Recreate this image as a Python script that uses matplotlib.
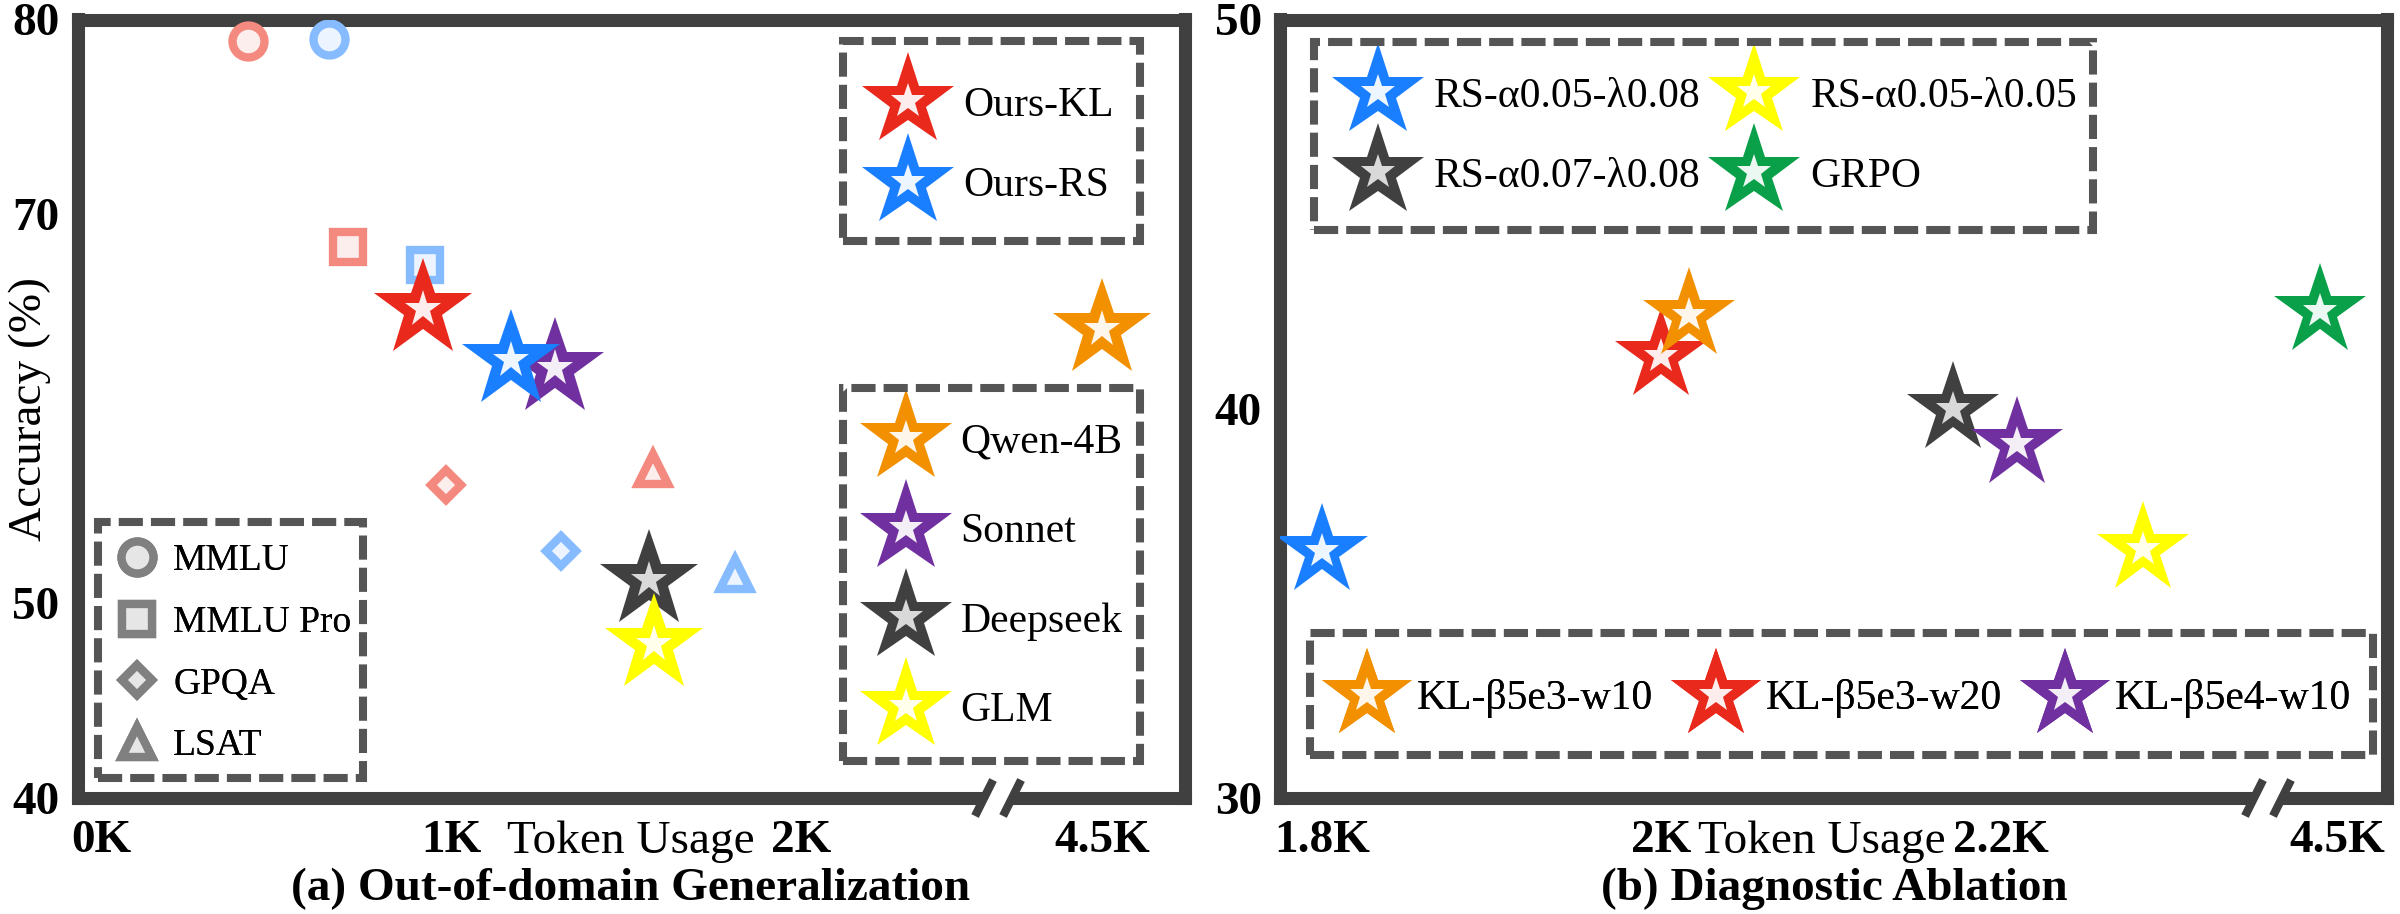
import numpy as np
import matplotlib
matplotlib.use('Agg')
import matplotlib.pyplot as plt
from matplotlib.lines import Line2D
from matplotlib.patches import Rectangle
from matplotlib.legend_handler import HandlerTuple

plt.rcParams['font.family'] = ['Liberation Serif', 'DejaVu Serif']

# ---------------- data: panel (a) ----------------
bench_names = ['MMLU', 'MMLU Pro', 'GPQA', 'LSAT']
kl_bench_tokens = [0.42, 0.706, 0.986, 1.577]      # K tokens
kl_bench_acc = [78.9, 68.3, 56.1, 56.9]
rs_bench_tokens = [0.652, 0.925, 1.314, 1.81]
rs_bench_acc = [79.0, 67.4, 52.7, 51.5]

models_a = ['Ours-KL', 'Ours-RS', 'Qwen-4B', 'Sonnet', 'Deepseek', 'GLM']
tokens_a = [0.921, 1.172, 4.5, 1.297, 1.566, 1.581]
acc_a = [65.1, 62.5, 64.1, 62.1, 51.2, 47.9]

xticks_a = [0, 1, 2, 4.5]
xticklabels_a = ['0K', '1K', '2K', '4.5K']
yticks_a = [40, 50, 70, 80]

# ---------------- data: panel (b) ----------------
models_b = ['RS-α0.05-λ0.08', 'RS-α0.07-λ0.08', 'RS-α0.05-λ0.05', 'GRPO',
            'KL-β5e3-w10', 'KL-β5e3-w20', 'KL-β5e4-w10']
tokens_b = [1.80, 2.172, 2.2835, 4.49, 2.016, 2.0, 2.2096]
acc_b = [36.35, 40.0, 36.4, 42.5, 42.4, 41.35, 39.1]

xticks_b = [1.8, 2.0, 2.2, 4.5]
xticklabels_b = ['1.8K', '2K', '2.2K', '4.5K']
yticks_b = [30, 40, 50]

# ---------------- styles ----------------
C = {
    'Ours-KL': '#E8291C', 'Ours-RS': '#1A7FFF', 'Qwen-4B': '#F29000',
    'Sonnet': '#7030A0', 'Deepseek': '#404040', 'GLM': '#FFFF00',
    'RS-α0.05-λ0.08': '#1A7FFF', 'RS-α0.07-λ0.08': '#404040',
    'RS-α0.05-λ0.05': '#FFFF00', 'GRPO': '#0AA04A',
    'KL-β5e3-w10': '#F29000', 'KL-β5e3-w20': '#E8291C', 'KL-β5e4-w10': '#7030A0',
}
bench_marker = {'MMLU': 'o', 'MMLU Pro': 's', 'GPQA': 'D', 'LSAT': '^'}
bench_ms = {'MMLU': 11.5, 'MMLU Pro': 10.5, 'GPQA': 7.6, 'LSAT': 10.5}
kl_edge, kl_face = '#F4897F', '#FCEEED'
rs_edge, rs_face = '#86BBFF', '#EBF4FF'
gray_edge, gray_face = '#808080', '#E6E6E6'
SPINE = '#404040'
BOX = '#555555'


def tint(hexc, amt):
    c = np.array(matplotlib.colors.to_rgb(hexc))
    return tuple(c * amt + (1 - amt) * 1.0)


def star_inner(name):
    if name in ('Deepseek', 'RS-α0.07-λ0.08'):
        return '#D9D9D9'
    return tint(C[name], 0.08)


def broken_scale(lo, hi):
    gap = hi - lo

    def fwd(x):
        x = np.asarray(x, dtype=float)
        return np.where(x <= lo, x, np.where(x >= hi, x - gap, lo))

    def inv(y):
        y = np.asarray(y, dtype=float)
        return np.where(y <= lo, y, y + gap)
    return fwd, inv


W, H = 2400, 914
fig = plt.figure(figsize=(12, 4.57), dpi=200)


def fx(px):
    return px / W


def fy(py):
    return 1 - py / H


axA = fig.add_axes([fx(77.5), fy(798), (1185 - 77.5) / W, (798 - 19.5) / H])
axB = fig.add_axes([fx(1280), fy(798), (2387 - 1280) / W, (798 - 19.5) / H])

brkA = (2.563, 4.203)
brkB = (2.3573, 4.4594)
axA.set_xscale('function', functions=broken_scale(*brkA))
axB.set_xscale('function', functions=broken_scale(*brkB))
axA.set_xlim(-0.0671, 4.7371)
axA.set_ylim(40, 80)
axB.set_xlim(1.7753, 4.5295)
axB.set_ylim(30, 50)


def star(ax, x, y, name, ms_out, ms_in, z):
    ax.plot([x], [y], linestyle='none', marker='*', ms=ms_out, mew=0,
            color=C[name], zorder=z)
    ax.plot([x], [y], linestyle='none', marker='*', ms=ms_in, mew=0,
            color=star_inner(name), zorder=z + 0.01)


def star_handle(name, ms_out, ms_in):
    h1 = Line2D([], [], linestyle='none', marker='*', ms=ms_out, mew=0, color=C[name])
    h2 = Line2D([], [], linestyle='none', marker='*', ms=ms_in, mew=0, color=star_inner(name))
    return (h1, h2)


# ---- panel (a) benchmark markers ----
for i, b in enumerate(bench_names):
    axA.plot([kl_bench_tokens[i]], [kl_bench_acc[i]], linestyle='none',
             marker=bench_marker[b], ms=bench_ms[b], mew=3, mec=kl_edge, mfc=kl_face, zorder=3)
    axA.plot([rs_bench_tokens[i]], [rs_bench_acc[i]], linestyle='none',
             marker=bench_marker[b], ms=bench_ms[b], mew=3, mec=rs_edge, mfc=rs_face, zorder=3)

# ---- panel (a) stars ----
orderA = ['Qwen-4B', 'Sonnet', 'Ours-KL', 'Ours-RS', 'Deepseek', 'GLM']
for k, name in enumerate(orderA):
    i = models_a.index(name)
    star(axA, tokens_a[i], acc_a[i], name, 37, 14, 4 + k * 0.1)

# ---- panel (b) stars ----
orderB = ['RS-α0.05-λ0.08', 'KL-β5e3-w20', 'KL-β5e3-w10', 'RS-α0.07-λ0.08',
          'KL-β5e4-w10', 'RS-α0.05-λ0.05', 'GRPO']
for k, name in enumerate(orderB):
    i = models_b.index(name)
    star(axB, tokens_b[i], acc_b[i], name, 34.5, 13, 4 + k * 0.1)

# ---- axes styling ----
for ax in (axA, axB):
    for s in ax.spines.values():
        s.set_linewidth(4.7)
        s.set_color(SPINE)
    ax.tick_params(axis='both', length=0, labelsize=17)
    ax.tick_params(axis='x', pad=8)
    ax.tick_params(axis='y', pad=6.5)

axA.set_xticks(xticks_a)
axA.set_xticklabels(xticklabels_a, fontweight='bold')
axA.set_yticks(yticks_a)
axA.set_yticklabels([str(v) for v in yticks_a], fontweight='bold')
axB.set_xticks(xticks_b)
axB.set_xticklabels(xticklabels_b, fontweight='bold')
axB.set_yticks(yticks_b)
axB.set_yticklabels([str(v) for v in yticks_b], fontweight='bold')
axA.minorticks_off()
axB.minorticks_off()

axA.set_xlabel('Token Usage', fontsize=17, labelpad=-15)
axB.set_xlabel('Token Usage', fontsize=17, labelpad=-15)
axB.xaxis.label.set_x((1822 - 1280) / 1107)
axA.set_ylabel('Accuracy (%)', fontsize=17, labelpad=-14)

fig.text(fx(631), fy(900), '(a) Out-of-domain Generalization', ha='center',
         va='baseline', fontsize=17, fontweight='bold')
fig.text(fx(1834), fy(900), '(b) Diagnostic Ablation', ha='center',
         va='baseline', fontsize=17, fontweight='bold')


# ---- dashed legend boxes ----
def dashed_box(x0, y0, x1, y1):
    r = Rectangle((fx(x0), fy(y1)), (x1 - x0) / W, (y1 - y0) / H,
                  transform=fig.transFigure, fill=False, edgecolor=BOX,
                  linewidth=2.9, linestyle=(0, (3.0, 1.0)), zorder=5)
    fig.add_artist(r)


dashed_box(843, 41, 1139.5, 241)
dashed_box(843, 388, 1139.5, 761)
dashed_box(98, 522, 363, 778)
dashed_box(1314, 41.7, 2093, 230)
dashed_box(1310, 633, 2373, 755)


def legend(ax, handles, labels, cx, cy, size, ls, htp, hl=1.4, ncol=1, cs=0.6):
    lg = ax.legend(handles, labels, loc='center', bbox_to_anchor=(fx(cx), fy(cy)),
                   bbox_transform=fig.transFigure, frameon=False, borderpad=0,
                   borderaxespad=0, prop={'size': size}, labelspacing=ls,
                   handletextpad=htp, handlelength=hl, ncol=ncol, columnspacing=cs,
                   handler_map={tuple: HandlerTuple(ndivide=1)})
    lg.set_zorder(6)
    ax.add_artist(lg)
    return lg


legend(axA, [star_handle(n, 35, 13) for n in ['Ours-KL', 'Ours-RS']],
       ['Ours-KL', 'Ours-RS'], 996.5, 145.75, 15, 1.0, 0.62)
legend(axA, [star_handle(n, 35, 13) for n in ['Qwen-4B', 'Sonnet', 'Deepseek', 'GLM']],
       ['Qwen-4B', 'Sonnet', 'Deepseek', 'GLM'], 999.5, 576.6, 15, 1.22, 0.62)
gh = [Line2D([], [], linestyle='none', marker=bench_marker[b], ms=bench_ms[b], mew=3,
             mec=gray_edge, mfc=gray_face) for b in bench_names]
legend(axA, gh, bench_names, 232.7, 653.5, 13.5, 0.72, 0.38, hl=1.2)

orderD = ['RS-α0.05-λ0.08', 'RS-α0.07-λ0.08', 'RS-α0.05-λ0.05', 'GRPO']
legend(axB, [star_handle(n, 35, 13) for n in orderD], orderD, 1712.75, 136.5, 15, 0.99,
       0.65, ncol=2, cs=0.58)
orderE = ['KL-β5e3-w10', 'KL-β5e3-w20', 'KL-β5e4-w10']
legend(axB, [star_handle(n, 34, 13) for n in orderE], orderE, 1844.5, 699, 15, 0.5,
       0.5, ncol=3, cs=0.8)


# ---- axis break marks ----
def break_mark(ax, lo):
    xd, _ = ax.transData.transform((lo, ax.get_ylim()[0]))
    yd = ax.transAxes.transform((0, 0))[1]
    ppx = W / fig.bbox.width
    cxp = xd * ppx
    cyp = H - yd * ppx
    # white gap in spine
    fig.add_artist(Rectangle((fx(cxp - 14), fy(cyp + 9)), 28 / W, 18 / H,
                             transform=fig.transFigure, facecolor='white',
                             edgecolor='none', zorder=7))
    for off in (-14, 14):
        xs = [fx(cxp + off - 9), fx(cxp + off + 9)]
        ys = [fy(cyp + 18), fy(cyp - 18)]
        fig.add_artist(Line2D(xs, ys, transform=fig.transFigure, color=SPINE,
                              linewidth=3.0, solid_capstyle='butt', zorder=8))


break_mark(axA, brkA[0])
break_mark(axB, brkB[0])

fig.savefig('out.png', dpi=200)
